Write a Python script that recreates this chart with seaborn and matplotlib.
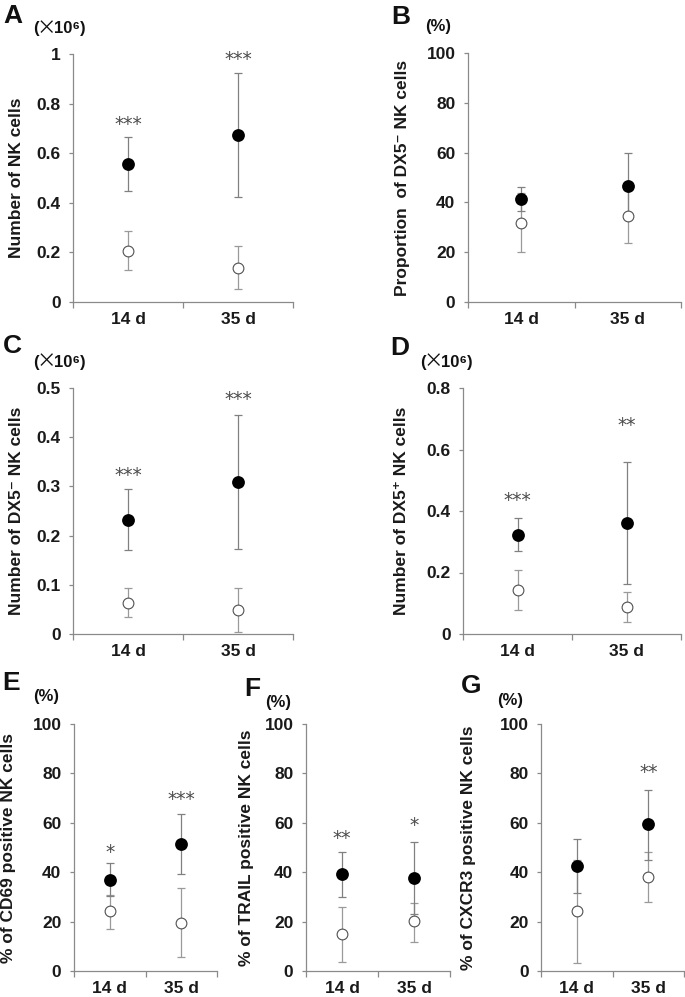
import numpy as np
import pandas as pd
import matplotlib.pyplot as plt
import matplotlib.transforms as mtransforms
import seaborn as sns

days = ["14 d", "35 d"]

# Panel A: number of NK cells (x10^6)
a_filled = [0.557, 0.672]
a_filled_lo = [0.447, 0.423]
a_filled_hi = [0.667, 0.923]
a_open = [0.205, 0.138]
a_open_lo = [0.130, 0.053]
a_open_hi = [0.288, 0.227]
a_stars = ["***", "***"]
a_star_y = [0.739, 1.0]
a_yticks = [0, 0.2, 0.4, 0.6, 0.8, 1]

# Panel B: proportion of DX5- NK cells (%)
b_filled = [41.2, 46.6]
b_filled_lo = [36.5, 33.5]
b_filled_hi = [46.0, 59.7]
b_open = [31.8, 34.5]
b_open_lo = [20.0, 23.5]
b_open_hi = [43.6, 45.5]
b_stars = ["", ""]
b_star_y = [0, 0]

# Panel C: number of DX5- NK cells (x10^6)
c_filled = [0.232, 0.308]
c_filled_lo = [0.170, 0.173]
c_filled_hi = [0.295, 0.445]
c_open = [0.063, 0.049]
c_open_lo = [0.034, 0.005]
c_open_hi = [0.093, 0.093]
c_stars = ["***", "***"]
c_star_y = [0.333, 0.489]
c_yticks = [0, 0.1, 0.2, 0.3, 0.4, 0.5]

# Panel D: number of DX5+ NK cells (x10^6)
d_filled = [0.322, 0.360]
d_filled_lo = [0.270, 0.163]
d_filled_hi = [0.376, 0.558]
d_open = [0.142, 0.088]
d_open_lo = [0.079, 0.039]
d_open_hi = [0.209, 0.135]
d_stars = ["***", "**"]
d_star_y = [0.452, 0.697]
d_yticks = [0, 0.2, 0.4, 0.6, 0.8]

# Panel E: % CD69 positive
e_filled = [36.9, 51.4]
e_filled_lo = [30.2, 39.2]
e_filled_hi = [43.6, 63.6]
e_open = [24.1, 19.6]
e_open_lo = [16.9, 5.8]
e_open_hi = [30.9, 33.5]
e_stars = ["*", "***"]
e_star_y = [50.1, 71.6]

# Panel F: % TRAIL positive
f_filled = [39.2, 37.8]
f_filled_lo = [29.9, 23.1]
f_filled_hi = [48.1, 52.2]
f_open = [14.9, 20.3]
f_open_lo = [3.8, 11.9]
f_open_hi = [25.8, 27.7]
f_stars = ["**", "*"]
f_star_y = [55.8, 61.2]

# Panel G: % CXCR3 positive
g_filled = [42.7, 59.6]
g_filled_lo = [31.5, 45.0]
g_filled_hi = [53.4, 73.4]
g_open = [24.1, 38.2]
g_open_lo = [3.1, 27.8]
g_open_hi = [45.0, 48.1]
g_stars = ["", "**"]
g_star_y = [0, 82.5]

pct_yticks = [0, 20, 40, 60, 80, 100]

sns.set_theme(style="ticks")
plt.rcParams['font.family'] = ['Liberation Sans', 'DejaVu Sans']

W, H = 685, 997
fig = plt.figure(figsize=(W / 100, H / 100), dpi=100)

AX_GRAY = '#8a8a8a'
TXT = '#1a1a1a'


def px_axes(left, top, right, bottom):
    return fig.add_axes([left / W, 1 - bottom / H, (right - left) / W, (bottom - top) / H])


def draw_panel(ax, filled, filled_lo, filled_hi, opn, opn_lo, opn_hi,
               stars, star_y, yticks, ylabel, label_x):
    # markers first so seaborn sets up the categorical axis
    sns.scatterplot(x=days, y=opn, marker='o', s=60, color='white',
                    edgecolor='#505050', linewidth=0.8, ax=ax, zorder=4)
    sns.scatterplot(x=days, y=filled, marker='o', s=85, color='black',
                    edgecolor='black', linewidth=0, ax=ax, zorder=5)
    opn_err = [np.subtract(opn, opn_lo), np.subtract(opn_hi, opn)]
    fil_err = [np.subtract(filled, filled_lo), np.subtract(filled_hi, filled)]
    ax.errorbar(days, opn, yerr=opn_err, fmt='none', ecolor='#9a9a9a',
                elinewidth=0.9, capsize=3, capthick=0.9, zorder=2)
    ax.errorbar(days, filled, yerr=fil_err, fmt='none', ecolor='#808080',
                elinewidth=0.9, capsize=3, capthick=0.9, zorder=3)

    for d, s, y in zip(days, stars, star_y):
        if s:
            ax.annotate(s, xy=(d, y), xytext=(0, -8), textcoords='offset points',
                        ha='center', va='baseline', fontsize=13.5,
                        family='DejaVu Sans', color='#4a4a4a')

    ax.set_ylim(yticks[0], yticks[-1])
    ax.set_yticks(yticks)
    ax.set_yticklabels([f"{t:g}" for t in yticks])
    ax.set_xlim(-0.5, 1.5)
    ax.set_xticks([-0.5, 0.5, 1.5])
    ax.set_xticklabels([])
    ax.set_xticks([0, 1], minor=True)
    ax.set_xticklabels(days, minor=True)
    ax.tick_params(axis='x', which='major', length=4, width=0.9, color=AX_GRAY, direction='out')
    ax.tick_params(axis='x', which='minor', length=0, pad=7)
    ax.tick_params(axis='y', length=3, width=0.9, color=AX_GRAY, direction='out', pad=6)
    for lab in ax.get_xticklabels(minor=True) + ax.get_yticklabels():
        lab.set_fontweight('bold')
        lab.set_fontsize(12.5)
        lab.set_color(TXT)
    sns.despine(ax=ax)
    for sp in ('left', 'bottom'):
        ax.spines[sp].set_color(AX_GRAY)
        ax.spines[sp].set_linewidth(0.9)
    ax.set_facecolor('white')
    ax.grid(False)

    ax.set_ylabel(ylabel, fontsize=12.5, fontweight='bold', color=TXT, va='center')
    trans = mtransforms.blended_transform_factory(fig.transFigure, ax.transAxes)
    ax.yaxis.set_label_coords(label_x / W, 0.5, transform=trans)


axA = px_axes(73, 54, 293, 302)
draw_panel(axA, a_filled, a_filled_lo, a_filled_hi, a_open, a_open_lo, a_open_hi,
           a_stars, a_star_y, a_yticks, "Number of NK cells", 17)

axB = px_axes(468, 53, 681, 302)
draw_panel(axB, b_filled, b_filled_lo, b_filled_hi, b_open, b_open_lo, b_open_hi,
           b_stars, b_star_y, pct_yticks, "Proportion  of DX5\u207b NK cells", 403)

axC = px_axes(73, 388, 293, 634)
draw_panel(axC, c_filled, c_filled_lo, c_filled_hi, c_open, c_open_lo, c_open_hi,
           c_stars, c_star_y, c_yticks, "Number of DX5\u207b NK cells", 17)

axD = px_axes(463, 388, 681, 634)
draw_panel(axD, d_filled, d_filled_lo, d_filled_hi, d_open, d_open_lo, d_open_hi,
           d_stars, d_star_y, d_yticks, "Number of DX5\u207a NK cells", 402)

axE = px_axes(74, 724, 217, 971)
draw_panel(axE, e_filled, e_filled_lo, e_filled_hi, e_open, e_open_lo, e_open_hi,
           e_stars, e_star_y, pct_yticks, "% of CD69 positive NK cells", 9)

axF = px_axes(306, 724, 450, 971)
draw_panel(axF, f_filled, f_filled_lo, f_filled_hi, f_open, f_open_lo, f_open_hi,
           f_stars, f_star_y, pct_yticks, "% of TRAIL positive NK cells", 247)

axG = px_axes(541, 724, 684, 971)
draw_panel(axG, g_filled, g_filled_lo, g_filled_hi, g_open, g_open_lo, g_open_hi,
           g_stars, g_star_y, pct_yticks, "% of CXCR3 positive NK cells", 469)

# panel letters and unit notes (pixel positions)
letters = [("A", 3, 16, "x10", 33, 29),
           ("B", 391, 17, "(%)", 425, 26),
           ("C", 3, 346, "x10", 33, 362),
           ("D", 390, 348, "x10", 420, 362),
           ("E", 2, 683, "(%)", 33, 697),
           ("F", 244, 689, "(%)", 265, 702),
           ("G", 461, 686, "(%)", 497, 700)]
for let, lx, ly, unit, ux, uy in letters:
    fig.text(lx / W, 1 - ly / H, let, fontsize=19, fontweight='bold',
             ha='left', va='center', color='#111111')
    if unit == "x10":
        # "(×10⁶)" with a wide, thin multiplication sign
        fig.text(ux / W, 1 - uy / H, "(", fontsize=12, fontweight='bold',
                 ha='left', va='center', color='#111111')
        fig.text((ux + 4) / W, 1 - uy / H, "\u00d7", fontsize=14,
                 family=['Noto Sans CJK JP', 'DejaVu Sans'],
                 ha='left', va='center', color='#111111')
        fig.text((ux + 21) / W, 1 - uy / H, "10\u2076)", fontsize=12, fontweight='bold',
                 ha='left', va='center', color='#111111')
    else:
        fig.text(ux / W, 1 - uy / H, unit, fontsize=12, fontweight='bold',
                 ha='left', va='center', color='#111111')

fig.savefig("out.png", dpi=100, facecolor='white')
